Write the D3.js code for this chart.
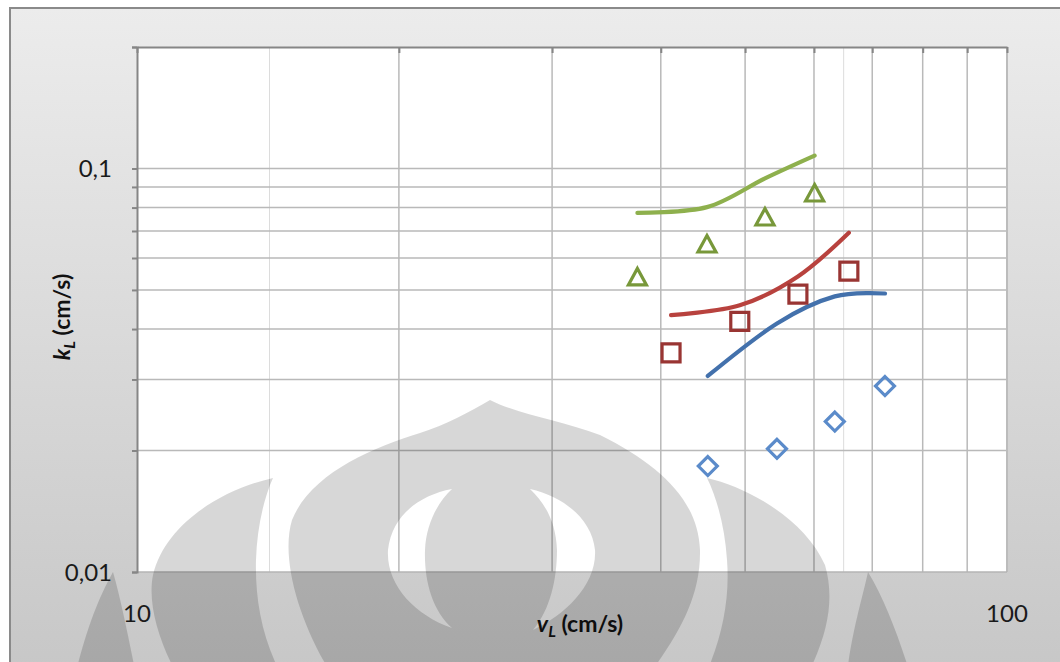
<!DOCTYPE html>
<html>
<head>
<meta charset="utf-8">
<script src="https://cdn.jsdelivr.net/npm/d3@7/dist/d3.min.js"></script>
<style>
  html, body { margin: 0; padding: 0; background: #ffffff; }
  svg { display: block; }
  text { font-family: Lato, "Open Sans", "DejaVu Sans", sans-serif; }
</style>
</head>
<body>
<svg id="chart" width="1060" height="662"></svg>
<script>
// Liquid-side mass transfer coefficient kL versus liquid velocity vL
// measured points (markers) and model curves (smoothed lines)

// Series 1 (diamonds, blue)
const vDiamond = [45.3, 54.4, 63.4, 72.4];
const kDiamond = [0.0183, 0.0202, 0.0236, 0.0289];
const kDiamondModel = [0.0306, 0.0413, 0.0482, 0.0490];

// Series 2 (squares, red)
const vSquare = [41.1, 49.3, 57.5, 65.8];
const kSquare = [0.0349, 0.0418, 0.0488, 0.0557];
const kSquareModel = [0.0433, 0.0458, 0.0540, 0.0693];

// Series 3 (triangles, green)
const vTriangle = [37.6, 45.2, 52.7, 60.1];
const kTriangle = [0.0537, 0.0648, 0.0756, 0.0867];
const kTriangleModel = [0.0776, 0.0802, 0.0945, 0.1076];

// Axis ticks
const xTicks = [10, 20, 30, 40, 50, 60, 70, 80, 90, 100];
const xTickLabels = ["10", "100"];
const yTicks = [0.01, 0.02, 0.03, 0.04, 0.05, 0.06, 0.07, 0.08, 0.09, 0.1, 0.2];
const yTickLabels = ["0,01", "0,1"];
const faintGuides = [14.2, 64.9];

const svg = d3.select("#chart");
const W = 1060, H = 662;
const plot = { left: 137, top: 47, right: 1007, bottom: 572 };

const x = d3.scaleLog().domain([10, 100]).range([plot.left, plot.right]);
const y = d3.scaleLog().domain([0.01, 0.2]).range([plot.bottom, plot.top]);

// ---------- chart frame ----------
const defs = svg.append("defs");
const grad = defs.append("linearGradient")
  .attr("id", "frameGrad").attr("x1", 0).attr("y1", 0).attr("x2", 0).attr("y2", 1);
grad.append("stop").attr("offset", "0%").attr("stop-color", "#ececec");
grad.append("stop").attr("offset", "100%").attr("stop-color", "#c6c6c6");

svg.append("rect")
  .attr("x", 10).attr("y", 8).attr("width", W + 20).attr("height", H + 20)
  .attr("fill", "url(#frameGrad)")
  .attr("stroke", "#8a8a8a").attr("stroke-width", 2);

// plot area
svg.append("rect")
  .attr("x", plot.left).attr("y", plot.top)
  .attr("width", plot.right - plot.left).attr("height", plot.bottom - plot.top)
  .attr("fill", "#ffffff");

// ---------- gridlines ----------
const grid = svg.append("g");
grid.selectAll("line.faint").data(faintGuides).join("line")
  .attr("x1", d => x(d)).attr("x2", d => x(d))
  .attr("y1", plot.top).attr("y2", plot.bottom)
  .attr("stroke", "#dcdcdc").attr("stroke-width", 1);

grid.selectAll("line.h").data(yTicks.filter(d => d > 0.01 && d < 0.2)).join("line")
  .attr("x1", plot.left).attr("x2", plot.right)
  .attr("y1", d => y(d)).attr("y2", d => y(d))
  .attr("stroke", "#b9b9b9").attr("stroke-width", 1.5);

grid.selectAll("line.v").data(xTicks.filter(d => d > 10 && d < 100)).join("line")
  .attr("x1", d => x(d)).attr("x2", d => x(d))
  .attr("y1", plot.top).attr("y2", plot.bottom)
  .attr("stroke", "#b9b9b9").attr("stroke-width", 1.5);

// plot border: right and bottom
svg.append("line")
  .attr("x1", plot.right).attr("x2", plot.right)
  .attr("y1", plot.top).attr("y2", plot.bottom)
  .attr("stroke", "#bcbcbc").attr("stroke-width", 2);
svg.append("line")
  .attr("x1", plot.left).attr("x2", plot.right)
  .attr("y1", plot.bottom).attr("y2", plot.bottom)
  .attr("stroke", "#b4b4b4").attr("stroke-width", 1.5);

// ---------- axes ----------
// vertical axis: ticks outward on the left
const yAxis = d3.axisLeft(y).tickValues(yTicks).tickSize(5).tickFormat("");
const gy = svg.append("g").attr("transform", `translate(${plot.left},0)`).call(yAxis);
gy.select(".domain").attr("stroke", "#868686").attr("stroke-width", 2);
gy.selectAll(".tick line").attr("stroke", "#868686").attr("stroke-width", 2);

// horizontal axis line runs along the top, ticks pointing into the plot
const xAxis = d3.axisTop(x).tickValues(xTicks).tickSize(-6).tickSizeOuter(0).tickFormat("");
const gx = svg.append("g").attr("transform", `translate(0,${plot.top})`).call(xAxis);
gx.select(".domain").attr("stroke", "#868686").attr("stroke-width", 2);
gx.selectAll(".tick line").attr("stroke", "#868686").attr("stroke-width", 2);

// tick labels
const yLabelVals = [0.01, 0.1];
svg.selectAll("text.ylab").data(yLabelVals).join("text")
  .attr("x", 112).attr("y", d => y(d))
  .attr("dy", "0.36em")
  .attr("text-anchor", "end")
  .attr("font-size", 24).attr("fill", "#1a1a1a")
  .text((d, i) => yTickLabels[i]);

const xLabelVals = [10, 100];
svg.selectAll("text.xlab").data(xLabelVals).join("text")
  .attr("x", d => x(d)).attr("y", 622)
  .attr("text-anchor", "middle")
  .attr("font-size", 24).attr("fill", "#1a1a1a")
  .text((d, i) => xTickLabels[i]);

// axis titles
const xt = svg.append("text")
  .attr("x", 580).attr("y", 632)
  .attr("text-anchor", "middle")
  .attr("font-size", 23).attr("font-weight", "bold").attr("fill", "#111");
xt.append("tspan").attr("font-style", "italic").text("v");
xt.append("tspan").attr("font-style", "italic").attr("font-size", 16).attr("dy", 5).text("L");
xt.append("tspan").attr("dy", -5).text(" (cm/s)");

const yt = svg.append("text")
  .attr("transform", "translate(70,317) rotate(-90)")
  .attr("text-anchor", "middle")
  .attr("font-size", 23).attr("font-weight", "bold").attr("fill", "#111");
yt.append("tspan").attr("font-style", "italic").text("k");
yt.append("tspan").attr("font-style", "italic").attr("font-size", 16).attr("dy", 5).text("L");
yt.append("tspan").attr("dy", -5).text(" (cm/s)");

// ---------- series ----------
const series = [
  { v: vDiamond, k: kDiamond, model: kDiamondModel, line: "#4371ac", mark: "#5b8bca", shape: "diamond" },
  { v: vSquare, k: kSquare, model: kSquareModel, line: "#b8423e", mark: "#993533", shape: "square" },
  { v: vTriangle, k: kTriangle, model: kTriangleModel, line: "#8eb04d", mark: "#78983a", shape: "triangle" }
];

const lineGen = d3.line()
  .x(d => x(d[0])).y(d => y(d[1]))
  .curve(d3.curveCardinal.tension(0));

const markerPath = {
  diamond: "M0,-9.5L9.5,0L0,9.5L-9.5,0Z",
  square: "M-9,-9H9V9H-9Z",
  triangle: "M0,-9L9,7.5H-9Z"
};

series.forEach(s => {
  svg.append("path")
    .datum(s.v.map((v, i) => [v, s.model[i]]))
    .attr("d", lineGen)
    .attr("fill", "none")
    .attr("stroke", s.line)
    .attr("stroke-width", 4.2)
    .attr("stroke-linecap", "round");
});

series.forEach(s => {
  svg.append("g").selectAll("path")
    .data(s.v.map((v, i) => [v, s.k[i]]))
    .join("path")
    .attr("transform", d => `translate(${x(d[0])},${y(d[1])})`)
    .attr("d", markerPath[s.shape])
    .attr("fill", "none")
    .attr("stroke", s.mark)
    .attr("stroke-width", 3.2)
    .attr("stroke-linejoin", "miter");
});

// ---------- faint emblem watermark laid over the lower half ----------
const mark = svg.append("g").attr("fill", "#000");
const emblem = [
  // narrow outer-left leaf
  "M113,572 C100,595 86,628 74,680 L137,680 C129,640 121,600 113,572 Z",
  // left crescent leaf
  "M273,478 C220,490 165,525 153,575 C147,605 160,645 180,680 L284,680 C262,640 255,600 256,560 C257,530 263,500 273,478 Z",
  // central dome with two open crescents
  "M490,400 C470,412 445,425 420,433 C370,448 310,475 292,520 C280,560 300,625 335,680 L645,680 C675,640 701,600 700,550 C698,500 660,465 600,435 C560,420 520,415 490,400 Z " +
  "M452,489 C420,495 392,515 388,550 C386,585 415,615 452,628 C432,610 424,580 425,550 C426,525 437,503 452,489 Z " +
  "M530,489 C565,497 592,520 595,550 C597,585 565,615 533,630 C550,610 557,580 557,550 C556,522 545,503 530,489 Z",
  // right crescent leaf
  "M707,478 C750,488 805,520 825,565 C835,600 828,635 805,680 L703,680 C722,640 730,600 727,560 C725,530 718,500 707,478 Z",
  // narrow outer-right leaf
  "M868,572 C862,600 852,630 846,680 L912,680 C900,640 885,600 868,572 Z"
];
mark.selectAll("path").data(emblem).join("path")
  .attr("d", d => d)
  .attr("fill-rule", "evenodd")
  .attr("fill-opacity", 0.155);
</script>
</body>
</html>
